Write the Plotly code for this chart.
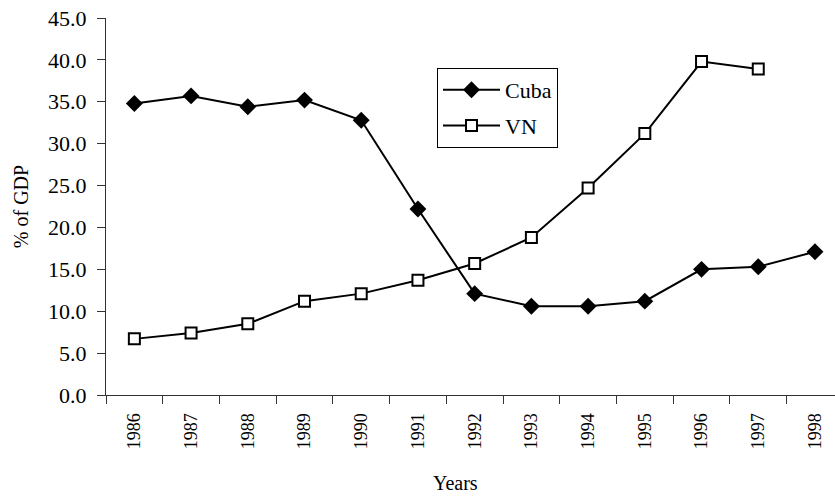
import plotly.graph_objects as go

years = ["1986", "1987", "1988", "1989", "1990", "1991", "1992", "1993", "1994", "1995", "1996", "1997", "1998"]
cuba = [34.8, 35.7, 34.4, 35.2, 32.8, 22.2, 12.1, 10.6, 10.6, 11.2, 15.0, 15.3, 17.1]
vn = [6.7, 7.4, 8.5, 11.2, 12.1, 13.7, 15.7, 18.8, 24.7, 31.2, 39.8, 38.9, None]
y_ticks = [0, 5, 10, 15, 20, 25, 30, 35, 40, 45]

FONT = "Times New Roman, Liberation Serif, serif"

fig = go.Figure()
fig.add_trace(go.Scatter(
    x=years, y=cuba, name="Cuba", mode="lines+markers",
    line=dict(color="black", width=2),
    marker=dict(symbol="diamond", size=13, color="black"),
    legendgroup="a",
))
fig.add_trace(go.Scatter(
    x=years, y=vn, name="VN", mode="lines+markers",
    line=dict(color="black", width=2),
    marker=dict(symbol="square", size=11, color="white", line=dict(color="black", width=2)),
    legendgroup="b",
))

W, H = 835, 499
L, T, B = 106, 18, 104
pw = W - L
ph = H - T - B
fig.update_layout(
    width=W, height=H,
    margin=dict(l=L, r=0, t=T, b=B),
    paper_bgcolor="white", plot_bgcolor="white",
    font=dict(family=FONT, size=20, color="black"),
    showlegend=True,
    legend=dict(
        x=(437 - L) / pw, y=(H - B - 68) / ph, xanchor="left", yanchor="top",
        bordercolor="black", borderwidth=1, bgcolor="white",
        font=dict(family=FONT, size=22),
        tracegroupgap=4, traceorder="grouped", itemwidth=57,
    ),
    annotations=[dict(
        text="Years", xref="paper", yref="paper",
        x=(455 - L) / pw, y=-(483 - (H - B)) / ph,
        xanchor="center", yanchor="middle", showarrow=False,
        font=dict(family=FONT, size=20),
    )],
)

fig.update_xaxes(
    type="category", range=[-0.5, 12.353], automargin=False,
    showline=True, linecolor="#333", linewidth=1,
    ticks="outside", tickson="boundaries", ticklen=8, tickcolor="#333",
    tickangle=-90, showgrid=False, zeroline=False,
    tickfont=dict(family=FONT, size=18),
    ticklabelstandoff=10,
)
fig.update_yaxes(
    range=[0, 45], tickvals=y_ticks, tickformat=".1f", automargin=False,
    showline=True, linecolor="#333", linewidth=1,
    ticks="outside", ticklen=8, tickcolor="#333",
    showgrid=False, zeroline=False,
    tickfont=dict(family=FONT, size=22),
    ticklabelstandoff=6,
    title=dict(text="% of GDP", font=dict(family=FONT, size=20), standoff=14),
)

fig.write_html("out.html", config={"displayModeBar": False},
               post_script="document.body.style.margin='0';")
